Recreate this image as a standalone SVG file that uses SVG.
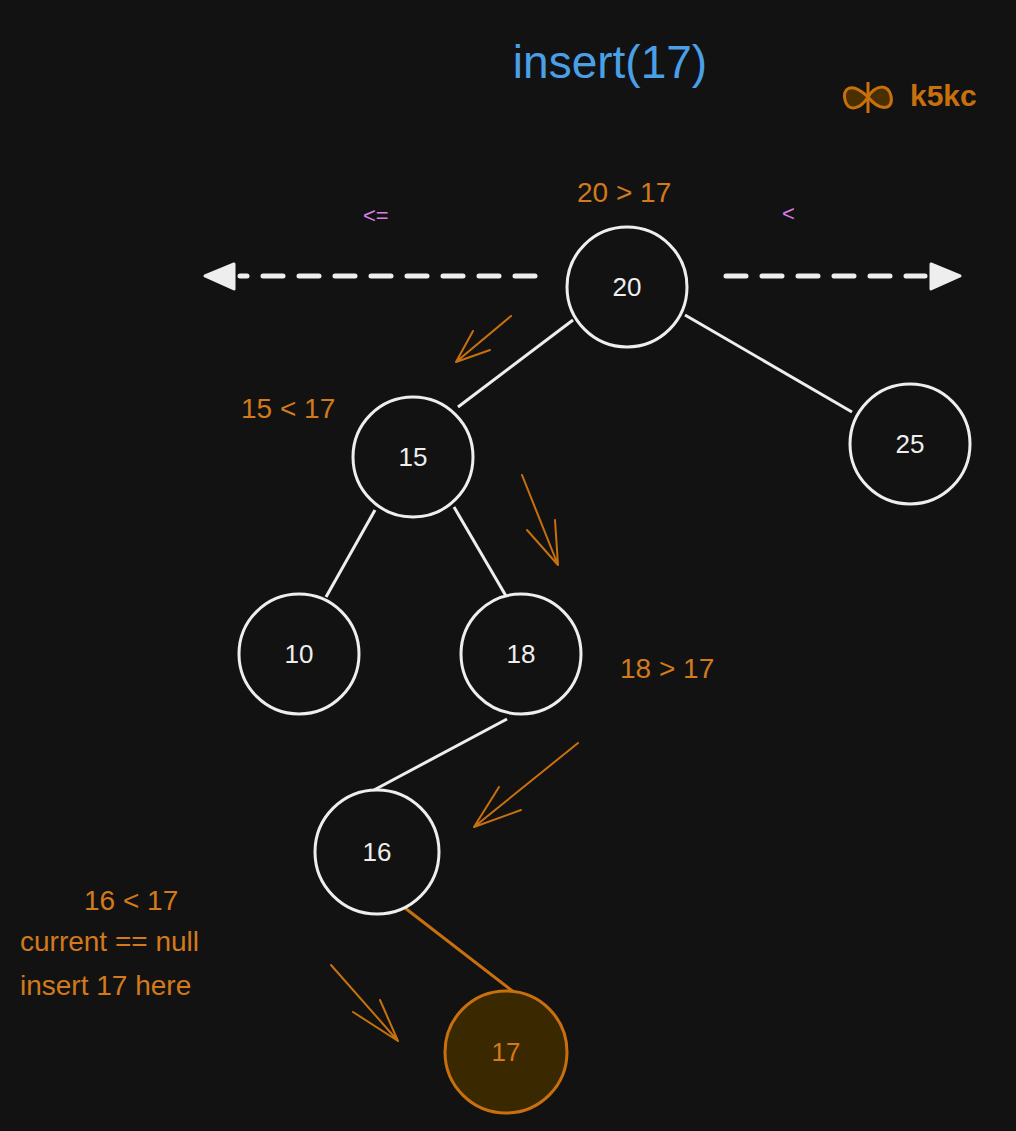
<svg xmlns="http://www.w3.org/2000/svg" width="1016" height="1131" viewBox="0 0 1016 1131">
<style>
.n{fill:none;stroke:#eeeeee;stroke-width:3}
.t{font-family:"Liberation Sans",Arial,sans-serif;font-size:26px;fill:#eeeeee;text-anchor:middle}
.o{font-family:"Liberation Sans",Arial,sans-serif;font-size:28px;fill:#d27a1c}
.e{stroke:#eeeeee;stroke-width:3;fill:none}
.a{stroke:#c8700e;stroke-width:2;fill:none;stroke-linecap:round}
.p{font-family:"Liberation Sans",Arial,sans-serif;font-size:22px;fill:#d77ee8}
</style>
<rect width="1016" height="1131" fill="#121212"/>
<text x="610" y="78" font-family="Liberation Sans,Arial,sans-serif" font-size="46" fill="#4a9fe6" text-anchor="middle">insert(17)</text>
<g id="logo">
<path d="M868,97 C850,80 842,90 845,100 C848,112 860,110 868,97 C876,84 888,84 891,96 C894,110 880,112 868,97 Z" fill="#4a3000" stroke="#c8700e" stroke-width="3"/>
<line x1="868" y1="82" x2="868" y2="113" stroke="#c8700e" stroke-width="3"/>
<text x="910" y="106" font-family="Liberation Sans,Arial,sans-serif" font-size="30" font-weight="bold" fill="#c8700e">k5kc</text>
</g>
<g id="connectors">
<line class="e" x1="573" y1="320" x2="458" y2="407"/>
<line class="e" x1="685" y1="315" x2="852" y2="412"/>
<line class="e" x1="375" y1="510" x2="326" y2="597"/>
<line class="e" x1="454" y1="507" x2="506" y2="596"/>
<line class="e" x1="507" y1="719" x2="374" y2="790"/>
<line x1="405" y1="908" x2="515" y2="993" stroke="#c8700e" stroke-width="3"/>
<line x1="535" y1="276" x2="240" y2="276" stroke="#eeeeee" stroke-width="5" stroke-dasharray="20,16" stroke-linecap="round"/>
<path d="M205,276 L234,264 L234,289 Z" fill="#eeeeee" stroke="#eeeeee" stroke-width="3" stroke-linejoin="round"/>
<line x1="726" y1="276" x2="925" y2="276" stroke="#eeeeee" stroke-width="5" stroke-dasharray="20,16" stroke-linecap="round"/>
<path d="M960,276 L931,264 L931,289 Z" fill="#eeeeee" stroke="#eeeeee" stroke-width="3" stroke-linejoin="round"/>
<path class="a" d="M511,316 L456,362 M456,362 L473,331 M456,362 L490,350"/>
<path class="a" d="M522,475 L558,565 M558,565 L527,530 M558,565 L555,520"/>
<path class="a" d="M578,743 L474,827 M474,827 L499,787 M474,827 L521,810"/>
<path class="a" d="M331,965 L398,1041 M398,1041 L353,1012 M398,1041 L380,1000"/>
</g>
<text class="p" x="363" y="223">&lt;=</text>
<text class="p" x="782" y="221">&lt;</text>
<text class="o" x="577" y="202">20 &gt; 17</text>
<text class="o" x="241" y="418">15 &lt; 17</text>
<text class="o" x="620" y="678">18 &gt; 17</text>
<text class="o" x="84" y="910">16 &lt; 17</text>
<text class="o" x="20" y="951">current == null</text>
<text class="o" x="20" y="995">insert 17 here</text>
<g id="n20"><circle class="n" cx="627" cy="287" r="60"/><text class="t" x="627" y="296">20</text></g>
<g id="n15"><circle class="n" cx="413" cy="457" r="60"/><text class="t" x="413" y="466">15</text></g>
<g id="n25"><circle class="n" cx="910" cy="444" r="60"/><text class="t" x="910" y="453">25</text></g>
<g id="n10"><circle class="n" cx="299" cy="654" r="60"/><text class="t" x="299" y="663">10</text></g>
<g id="n18"><circle class="n" cx="521" cy="654" r="60"/><text class="t" x="521" y="663">18</text></g>
<g id="n16"><circle class="n" cx="377" cy="852" r="62"/><text class="t" x="377" y="861">16</text></g>
<g id="n17"><circle cx="506" cy="1052" r="61" fill="#3a2800" stroke="#c8700e" stroke-width="3"/><text class="t" x="506" y="1061" style="fill:#d27a1c">17</text></g>
</svg>
